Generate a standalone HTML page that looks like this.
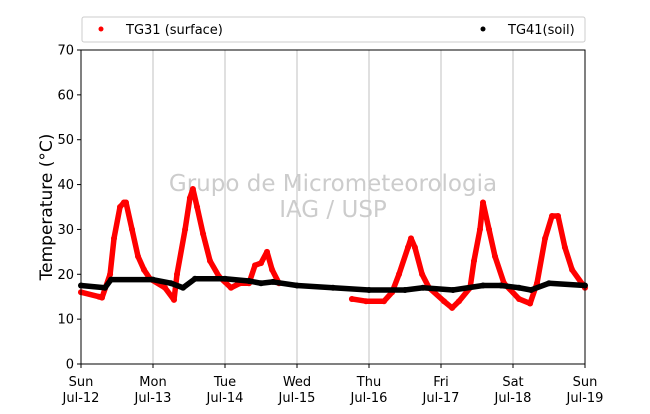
<!DOCTYPE html>
<html><head><meta charset="utf-8"><style>
body{margin:0;background:#fff;}
svg{font-family:"DejaVu Sans","Liberation Sans",sans-serif;}
</style></head><body>
<svg id="c" width="650" height="409" xmlns="http://www.w3.org/2000/svg">
<rect width="650" height="409" fill="#fff"/>
<g id="grid"></g>
<text x="333" y="191" font-size="23" fill="#cccccc" text-anchor="middle">Grupo de Micrometeorologia</text>
<text x="333" y="217" font-size="23" fill="#cccccc" text-anchor="middle">IAG / USP</text>
<g id="series"></g>
<rect x="81" y="50" width="504" height="314" fill="none" stroke="#000" stroke-width="1"/>
<g id="axes"></g>
<text transform="translate(52,207) rotate(-90)" font-size="17" text-anchor="middle">Temperature (°C)</text>
<g>
<rect x="82" y="17" width="503" height="25" fill="#fff" stroke="#ccc" rx="2"/>
<circle cx="101" cy="29" r="2.5" fill="#ff0000"/>
<text x="126" y="34" font-size="13">TG31 (surface)</text>
<circle cx="483" cy="29" r="2.5" fill="#000"/>
<text x="508" y="34" font-size="13">TG41(soil)</text>
</g>
</svg>
<script>
const yTicks=[0,10,20,30,40,50,60,70];
const dayLabels=["Sun","Mon","Tue","Wed","Thu","Fri","Sat","Sun"];
const dateLabels=["Jul-12","Jul-13","Jul-14","Jul-15","Jul-16","Jul-17","Jul-18","Jul-19"];
// hours since Jul-12 00:00 ; null = gap
const surfHours=[0,6,7,9.7,11,13,14.3,15,17,19,21,23,28,31,32,34.7,36.3,37.3,38.7,40.7,43,46,50,53,56,58,60,62,63.7,66,null,90.3,95,101,103.7,106,109,110,111.3,113.7,116,121,123.7,126,129.7,131,133,134,136,138,141,146,149.7,152,154.7,157,159,161.3,163.7,168];
const surfTemps=[16,15,14.8,20,28,35,36,36,30,24,21,19,17,14.3,20,30,37,39,35,29,23,19.5,17,18,18,22,22.5,25,21,18,null,14.5,14,14,16,20,26,28,26,20,17,14,12.5,14,17,23,30,36,30,24,18,14.5,13.5,18,28,33,33,26,21,17];
const soilHours=[0,8,10,24,30,34,38,48,56,60,64,72,84,96,108,114,124,134,140,146,150,156,168];
const soilTemps=[17.5,17,18.8,18.8,18,17,19,19,18.5,18,18.3,17.5,17,16.5,16.5,17,16.5,17.5,17.5,17,16.5,18,17.5];
const NS="http://www.w3.org/2000/svg";
const X0=81,X1=585,Y0=364,Y1=50;
const xs=h=>X0+h/168*(X1-X0);
const ys=v=>Y0-v/70*(Y0-Y1);
function mk(tag,attrs,parent){const e=document.createElementNS(NS,tag);for(const k in attrs)e.setAttribute(k,attrs[k]);parent.appendChild(e);return e;}
const grid=document.getElementById('grid'),axes=document.getElementById('axes'),ser=document.getElementById('series');
for(let d=1;d<7;d++){const l=mk('line',{x1:xs(d*24),x2:xs(d*24),y1:Y1,y2:Y0,stroke:'#c0c0c0','stroke-width':1},grid);

}
yTicks.forEach(v=>{const y=ys(v);
const t=mk('line',{x1:X0-4,x2:X0,y1:y,y2:y,stroke:'#000'},axes);


const tx=mk('text',{x:X0-7,y:y+4.5,'font-size':13,'text-anchor':'end'},axes);tx.textContent=v;

});
dayLabels.forEach((dl,i)=>{const x=xs(i*24);
const t=mk('line',{x1:x,x2:x,y1:Y0,y2:Y0+4,stroke:'#000'},axes);


const a=mk('text',{x:x,y:386,'font-size':13,'text-anchor':'middle'},axes);a.textContent=dl;


const b=mk('text',{x:x,y:402,'font-size':13,'text-anchor':'middle'},axes);b.textContent=dateLabels[i];

});
function draw(hours,temps,color,name){
 let seg=[];const segs=[];
 hours.forEach((h,i)=>{if(h===null||temps[i]===null){if(seg.length)segs.push(seg);seg=[];}else seg.push([xs(h),ys(temps[i])]);});
 if(seg.length)segs.push(seg);
 segs.forEach(s=>{const p=mk('polyline',{points:s.map(q=>q.join(',')).join(' '),fill:'none',stroke:color,'stroke-width':5.5,'stroke-linejoin':'round','stroke-linecap':'round'},ser);
 
 
 s.forEach(q=>{const c=mk('circle',{cx:q[0],cy:q[1],r:3,fill:color},ser);
 
 });});
}
draw(surfHours,surfTemps,'#ff0000','surface-series');
draw(soilHours,soilTemps,'#000000','soil-series');
</script>
</body></html>
